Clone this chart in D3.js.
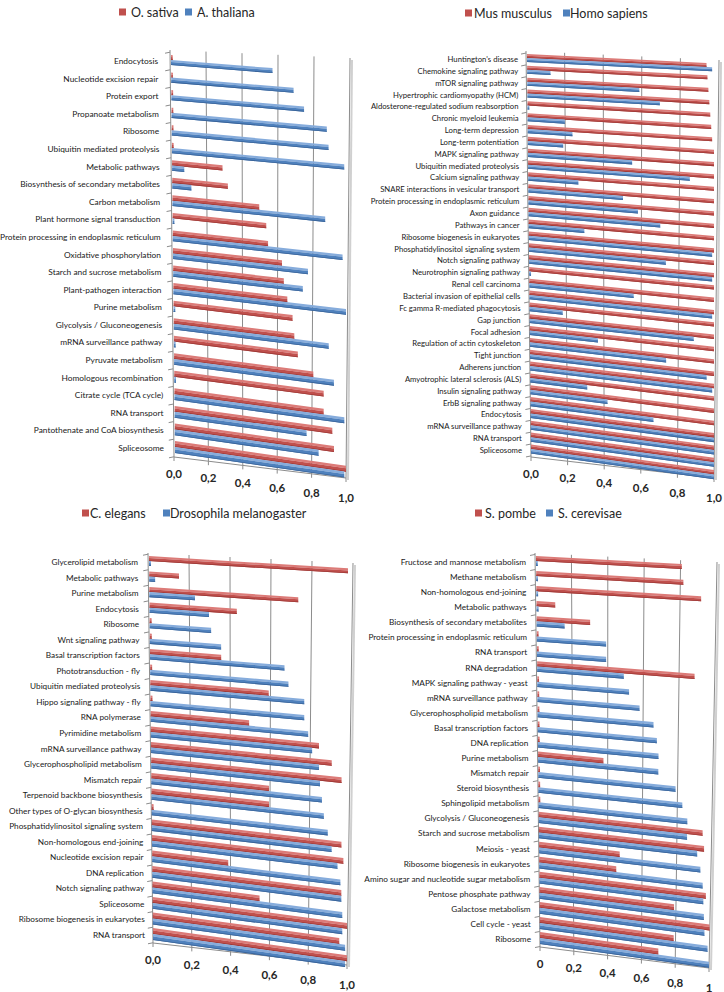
<!DOCTYPE html>
<html><head><meta charset="utf-8">
<script src="https://cdn.jsdelivr.net/npm/d3@7"></script>
<style>body{margin:0;background:#fff}svg{display:block}</style>
</head><body><svg id="c" width="724" height="992"></svg>
<script>
// ---------------- DATA ----------------
const axisTicks = [0, 0.2, 0.4, 0.6, 0.8, 1.0];

const p1Series = ["O. sativa", "A. thaliana"];
const p1Categories = ["Endocytosis","Nucleotide excision repair","Protein export","Propanoate metabolism","Ribosome","Ubiquitin mediated proteolysis","Metabolic pathways","Biosynthesis of secondary metabolites","Carbon metabolism","Plant hormone signal transduction","Protein processing in endoplasmic reticulum","Oxidative phosphorylation","Starch and sucrose metabolism","Plant-pathogen interaction","Purine metabolism","Glycolysis / Gluconeogenesis","mRNA surveillance pathway","Pyruvate metabolism","Homologous recombination","Citrate cycle (TCA cycle)","RNA transport","Pantothenate and CoA biosynthesis","Spliceosome"];
const p1OSativa =   [0.01,0.01,0.01,0.01,0.01,0.01,0.29,0.32,0.50,0.54,0.55,0.63,0.64,0.66,0.69,0.70,0.72,0.81,0.87,0.87,0.92,0.93,1.00];
const p1AThaliana = [0.58,0.70,0.76,0.89,0.90,0.99,0.07,0.11,0.88,0.01,0.98,0.78,0.75,1.00,0.01,0.90,0.01,0.93,0.01,0.99,0.77,0.84,0.99];

const p2Series = ["Mus musculus", "Homo sapiens"];
const p2Categories = ["Huntington's disease","Chemokine signaling pathway","mTOR signaling pathway","Hypertrophic cardiomyopathy (HCM)","Aldosterone-regulated sodium reabsorption","Chronic myeloid leukemia","Long-term depression","Long-term potentiation","MAPK signaling pathway","Ubiquitin mediated proteolysis","Calcium signaling pathway","SNARE interactions in vesicular transport","Protein processing in endoplasmic reticulum","Axon guidance","Pathways in cancer","Ribosome biogenesis in eukaryotes","Phosphatidylinositol signaling system","Notch signaling pathway","Neurotrophin signaling pathway","Renal cell carcinoma","Bacterial invasion of epithelial cells","Fc gamma R-mediated phagocytosis","Gap junction","Focal adhesion","Regulation of actin cytoskeleton","Tight junction","Adherens junction","Amyotrophic lateral sclerosis (ALS)","Insulin signaling pathway","ErbB signaling pathway","Endocytosis","mRNA surveillance pathway","RNA transport","Spliceosome"];
const p2MusMusculus = [0.96,0.965,0.97,0.975,0.98,0.985,0.99,1,1,1,1,1,1,1,1,1,1,1,1,1,1,1,1,1,1,1,1,1,1,1,1,1,1,1];
const p2HomoSapiens = [0.99,0.125,0.60,0.71,0.01,0.20,0.24,0.19,0.56,0.87,0.27,0.51,0.59,0.71,0.30,0.99,0.74,0.99,0.01,0.565,0.99,0.18,0.89,0.37,0.74,0.96,0.99,0.31,0.42,0.67,1.0,1.0,1.0,1.0];

const p3Series = ["C. elegans", "Drosophila melanogaster"];
const p3Categories = ["Glycerolipid metabolism","Metabolic pathways","Purine metabolism","Endocytosis","Ribosome","Wnt signaling pathway","Basal transcription factors","Phototransduction - fly","Ubiquitin mediated proteolysis","Hippo signaling pathway - fly","RNA polymerase","Pyrimidine metabolism","mRNA surveillance pathway","Glycerophospholipid metabolism","Mismatch repair","Terpenoid backbone biosynthesis","Other types of O-glycan biosynthesis","Phosphatidylinositol signaling system","Non-homologous end-joining","Nucleotide excision repair","DNA replication","Notch signaling pathway","Spliceosome","Ribosome biogenesis in eukaryotes","RNA transport"];
const p3CElegans =    [1.00,0.15,0.75,0.44,0.01,0.01,0.36,0.01,0.60,0.01,0.50,0.855,0.92,0.97,0.60,0.60,0.01,0.97,0.98,0.39,0.97,0.55,1.00,0.96,1.00];
const p3Drosophila =  [0.01,0.03,0.23,0.30,0.31,0.36,0.68,0.70,0.78,0.78,0.80,0.82,0.855,0.86,0.87,0.88,0.90,0.92,0.95,0.965,0.97,0.975,0.975,0.99,0.99];

const p4Series = ["S. pombe", "S. cerevisae"];
const p4Categories = ["Fructose and mannose metabolism","Methane metabolism","Non-homologous end-joining","Metabolic pathways","Biosynthesis of secondary metabolites","Protein processing in endoplasmic reticulum","RNA transport","RNA degradation","MAPK signaling pathway - yeast","mRNA surveillance pathway","Glycerophospholipid metabolism","Basal transcription factors","DNA replication","Purine metabolism","Mismatch repair","Steroid biosynthesis","Sphingolipid metabolism","Glycolysis / Gluconeogenesis","Starch and sucrose metabolism","Meiosis - yeast","Ribosome biogenesis in eukaryotes","Amino sugar and nucleotide sugar metabolism","Pentose phosphate pathway","Galactose metabolism","Cell cycle - yeast","Ribosome"];
const p4SPombe =      [0.81,0.82,0.92,0.105,0.30,0.01,0.01,0.89,0.01,0.01,0.01,0.01,0.01,0.375,0.01,0.01,0.01,0.95,0.96,0.47,0.45,0.975,0.79,1.00,0.79,0.70];
const p4SCerevisae =  [0.01,0.01,0.01,0.012,0.157,0.39,0.39,0.49,0.52,0.58,0.66,0.68,0.69,0.69,0.79,0.83,0.86,0.86,0.92,0.94,0.955,0.96,0.965,0.97,0.99,1.00];

// ---------------- LAYOUT ----------------
const loc = d3.formatLocale({decimal: ",", thousands: ".", grouping: [3], currency: ["", ""]});
const fmtFixed = loc.format(".1f");
const fmtTrim = loc.format(".1~f");

const panels = [
  {cats: p1Categories, red: p1OSativa, blue: p1AThaliana, names: p1Series, fmt: fmtFixed,
   legend: {rx: 119, tx1: 131, bx: 185, tx2: 197, cy: 12},
   wall: {tl: [170, 50], tr: [350, 58], bl: [174, 457], br: [346, 478]},
   bars: {y0: 61, y1: 448, xl0: 171, xl1: 175, xr0: 346, xr1: 346, s0: 0.08, s1: 0.145, h0: 5, h1: 6},
   labels: {x0: 158, x1: 164, width: 161}},
  {cats: p2Categories, red: p2MusMusculus, blue: p2HomoSapiens, names: p2Series, fmt: fmtFixed,
   legend: {rx: 465, tx1: 474, bx: 563, tx2: 570, cy: 13},
   wall: {tl: [526, 51], tr: [719, 60], bl: [531, 457], br: [714, 478]},
   bars: {y0: 59, y1: 450, xl0: 527, xl1: 531, xr0: 714, xr1: 714, s0: 0.05, s1: 0.14, h0: 4, h1: 4.6},
   labels: {x0: 518, x1: 522, width: 149}},
  {cats: p3Categories, red: p3CElegans, blue: p3Drosophila, names: p3Series, fmt: fmtFixed,
   legend: {rx: 82, tx1: 90, bx: 163, tx2: 170, cy: 513},
   wall: {tl: [148, 553], tr: [353, 563], bl: [153, 943], br: [347, 965]},
   bars: {y0: 562, y1: 935, xl0: 149, xl1: 153, xr0: 348, xr1: 347, s0: 0.062, s1: 0.14, h0: 5, h1: 6},
   labels: {x0: 138, x1: 145, width: 134}},
  {cats: p4Categories, red: p4SPombe, blue: p4SCerevisae, names: p4Series, fmt: fmtTrim,
   legend: {rx: 475, tx1: 485, bx: 546, tx2: 558, cy: 513},
   wall: {tl: [535, 553], tr: [717, 562], bl: [540, 947], br: [709, 968]},
   bars: {y0: 562, y1: 939, xl0: 536, xl1: 540, xr0: 716, xr1: 709, s0: 0.055, s1: 0.14, h0: 5, h1: 6},
   labels: {x0: 526, x1: 531, width: 166}}
];

const RED = {light: "#dc7b78", main: "#c0504d", dark: "#9e3a37"};
const BLUE = {light: "#86acdc", main: "#4f81bd", dark: "#3a6499"};
const GRID = "#8c8c8c";
const FONT = "Lato, 'Open Sans', sans-serif";

const svg = d3.select("#c");
const lerp = (a, b, t) => a + (b - a) * t;

function drawPanel(p) {
  const g = svg.append("g");
  const W = p.wall, B = p.bars, n = p.cats.length;
  const frac = d3.scaleLinear().domain([0, 1]).range([0, 1]);

  // wall gridlines
  const gridG = g.append("g");
  axisTicks.forEach(v => {
    const f = frac(v);
    gridG.append("line")
      .attr("x1", lerp(W.tl[0], W.tr[0], f)).attr("y1", lerp(W.tl[1], W.tr[1], f))
      .attr("x2", lerp(W.bl[0], W.br[0], f)).attr("y2", lerp(W.bl[1], W.br[1], f))
      .attr("stroke", GRID).attr("stroke-width", 1);
    // bottom tick
    const bx = lerp(W.bl[0], W.br[0], f), by = lerp(W.bl[1], W.br[1], f);
    gridG.append("line").attr("x1", bx).attr("y1", by).attr("x2", bx).attr("y2", by + 4)
      .attr("stroke", GRID);
  });
  // right shadow line
  gridG.append("line")
    .attr("x1", W.tr[0] + 2).attr("y1", W.tr[1] + 2).attr("x2", W.br[0] + 2).attr("y2", W.br[1] + 2)
    .attr("stroke", "#d0d0d0").attr("stroke-width", 2);
  // bottom edge
  gridG.append("line").attr("x1", W.bl[0]).attr("y1", W.bl[1]).attr("x2", W.br[0]).attr("y2", W.br[1])
    .attr("stroke", GRID);

  // left axis ticks between categories
  const yRow = d3.scalePoint().domain(p.cats).range([B.y0, B.y1]);
  const step = yRow.step();
  const axisX = y => lerp(W.tl[0], W.bl[0], (y - W.tl[1]) / (W.bl[1] - W.tl[1]));
  for (let k = 0; k <= n; k++) {
    const y = B.y0 + (k - 0.5) * step;
    const ax = axisX(y);
    gridG.append("line").attr("x1", ax - 5).attr("y1", y + 1).attr("x2", ax).attr("y2", y)
      .attr("stroke", GRID);
  }

  // bars
  const barG = g.append("g");
  p.cats.forEach((c, i) => {
    const t = n > 1 ? i / (n - 1) : 0;
    const yc = yRow(c) - 1;
    const xl = lerp(B.xl0, B.xl1, t), xr = lerp(B.xr0, B.xr1, t);
    const s = lerp(B.s0, B.s1, t), h = lerp(B.h0, B.h1, t);
    const x = d3.scaleLinear().domain([0, 1]).range([xl, xr]);
    const drawBar = (val, top, col) => {
      const xe = x(val);
      const d = s * (xe - xl);
      const split = top + h * 0.42;
      const quad = (ya, yb) => [[xl, ya], [xe, ya + d], [xe, yb + d], [xl, yb]];
      barG.append("polygon").attr("points", quad(top, split).join(" ")).attr("fill", col.light);
      barG.append("polygon").attr("points", quad(split, top + h).join(" ")).attr("fill", col.main);
      barG.append("polygon").attr("points", quad(top + h - 0.8, top + h).join(" ")).attr("fill", col.dark);
    };
    drawBar(p.red[i], yc - h, RED);
    drawBar(p.blue[i], yc, BLUE);
  });

  // category labels
  const labG = g.append("g").attr("font-family", FONT).attr("fill", "#1a1a1a");
  const longest = p.cats.reduce((a, b) => (b.length > a.length ? b : a), "");
  const probe = labG.append("text").attr("font-size", 10).text(longest);
  let wMax = 0;
  p.cats.forEach(c => { probe.text(c); wMax = Math.max(wMax, probe.node().getComputedTextLength()); });
  probe.remove();
  const fs = 10 * p.labels.width / wMax;
  p.cats.forEach((c, i) => {
    const t = n > 1 ? i / (n - 1) : 0;
    labG.append("text")
      .attr("x", lerp(p.labels.x0, p.labels.x1, t)).attr("y", yRow(c))
      .attr("text-anchor", "end").attr("dominant-baseline", "central")
      .attr("font-size", fs.toFixed(2)).text(c);
  });

  // value axis labels
  const tickG = g.append("g").attr("font-family", FONT).attr("font-size", 11.5)
    .attr("font-weight", 700).attr("fill", "#262626");
  axisTicks.forEach(v => {
    const f = frac(v);
    const bx = lerp(W.bl[0], W.br[0], f), by = lerp(W.bl[1], W.br[1], f);
    tickG.append("text").attr("x", bx).attr("y", by + 16 + 3 * f)
      .attr("text-anchor", "middle").attr("dominant-baseline", "central")
      .text(p.fmt(v));
  });

  // legend
  const L = p.legend;
  const legG = g.append("g").attr("font-family", FONT).attr("font-size", 12.5).attr("fill", "#262626");
  legG.append("rect").attr("x", L.rx).attr("y", L.cy - 3.5).attr("width", 7).attr("height", 7).attr("fill", RED.main);
  legG.append("text").attr("x", L.tx1).attr("y", L.cy).attr("dominant-baseline", "central").text(p.names[0]);
  legG.append("rect").attr("x", L.bx).attr("y", L.cy - 3.5).attr("width", 7).attr("height", 7).attr("fill", BLUE.main);
  legG.append("text").attr("x", L.tx2).attr("y", L.cy).attr("dominant-baseline", "central").text(p.names[1]);
}

panels.forEach(drawPanel);
</script>
</body></html>
